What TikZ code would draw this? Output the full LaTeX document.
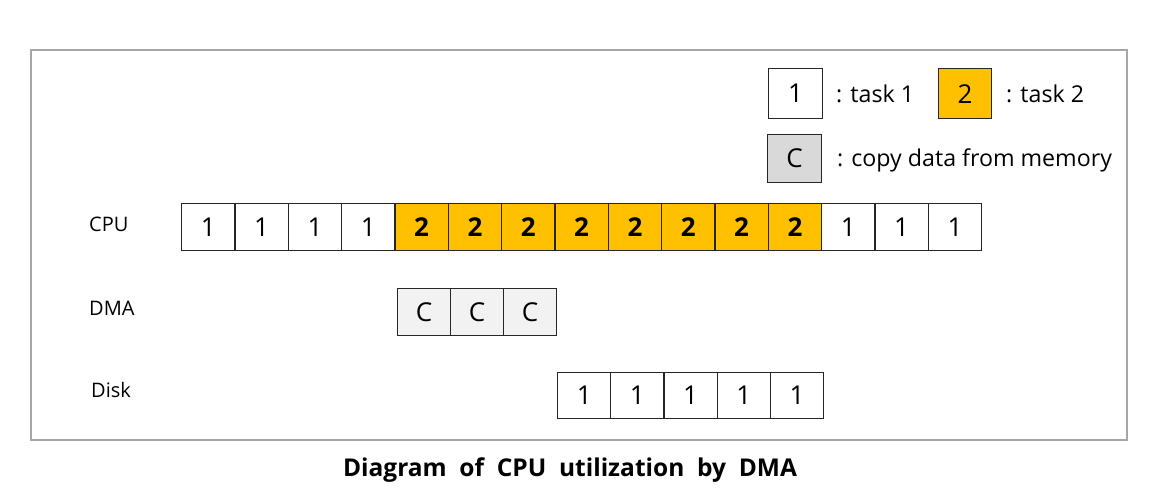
\documentclass[tikz,border=0pt]{standalone}
\usepackage{fontspec}
\setmainfont{Open Sans}
\definecolor{tasktwo}{HTML}{FFC000}
\definecolor{copyfill}{HTML}{D9D9D9}
\definecolor{dmafill}{HTML}{F2F2F2}
\definecolor{framegray}{HTML}{A6A6A6}
\tikzset{
  cell/.style={draw=black!85, line width=1.2pt, minimum width=53.33pt, minimum height=47pt, inner sep=0pt, anchor=north west, font=\fontsize{26}{26}\selectfont},
  one/.style={cell, fill=white},
  two/.style={cell, fill=tasktwo, font=\fontsize{26}{26}\selectfont\bfseries},
  cc/.style={cell, fill=dmafill, minimum width=53pt},
  lab/.style={anchor=west, inner sep=0pt, font=\fontsize{20}{20}\selectfont},
  legtxt/.style={anchor=west, inner sep=0pt, font=\fontsize{23.2}{23.2}\selectfont},
}
\begin{document}
\begin{tikzpicture}[x=1pt, y=-1pt]
\useasboundingbox (0,0) rectangle (1158,503);
\draw[framegray, line width=1.5pt] (31,50) rectangle (1127,440);
% legend
\node[one, minimum width=54pt, minimum height=50pt] (l1) at (768,68) {1};
\node[legtxt] (l1t) at (836,94) {: task 1};
\node[two, minimum width=53pt, minimum height=50pt, font=\fontsize{26}{26}\selectfont] (l2) at (938,68) {2};
\node[legtxt] (l2t) at (1006,94) {: task 2};
\node[cell, fill=copyfill, minimum width=54pt, minimum height=48pt] (lc) at (767,134) {C};
\node[legtxt] (lct) at (837,160) {: copy data from memory};
% row labels
\node[lab] (cpul) at (89,224) {CPU};
\node[lab] (dmal) at (89,308) {DMA};
\node[lab] (diskl) at (91,390) {Disk};
% CPU row
\foreach \i in {1,...,15}{
  \pgfmathsetmacro{\xx}{181+(\i-1)*53.333}
  \ifnum\i<5
    \node[one] (cpu\i) at (\xx,203) {1};
  \else\ifnum\i<13
    \node[two] (cpu\i) at (\xx,203) {2};
  \else
    \node[one] (cpu\i) at (\xx,203) {1};
  \fi\fi
}
% DMA row
\foreach \i in {1,2,3}{
  \pgfmathsetmacro{\xx}{397+(\i-1)*53}
  \node[cc] (dma\i) at (\xx,288) {C};
}
% Disk row
\foreach \i in {1,...,5}{
  \pgfmathsetmacro{\xx}{557+(\i-1)*53.2}
  \node[one, minimum width=53.2pt, minimum height=46pt] (disk\i) at (\xx,372) {1};
}
% title
\node[font=\fontsize{24.5}{24.5}\selectfont\bfseries] (title) at (570,470) {Diagram\ \ of\ \ CPU\ \ utilization\ \ by\ \ DMA};
\end{tikzpicture}
\end{document}
